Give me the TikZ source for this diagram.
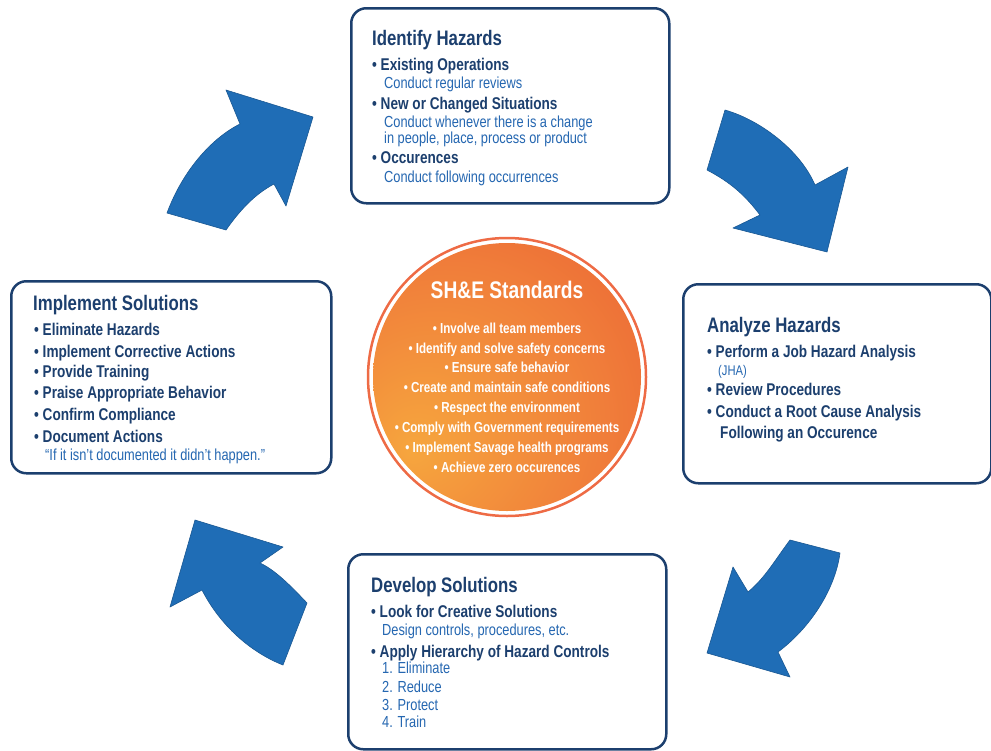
\documentclass[tikz,border=0pt]{standalone}
\usepackage{fontspec}
\setmainfont{Liberation Sans}[FakeStretch=0.8]
\usepackage{tikz}
\usetikzlibrary{positioning}
\definecolor{navy}{HTML}{1C3F6E}
\definecolor{sublue}{HTML}{2567B1}
\definecolor{arrowblue}{HTML}{1F6DB6}
\definecolor{ringc}{HTML}{EE6B45}
\definecolor{sunhot}{HTML}{F6A63E}
\definecolor{sunmid}{HTML}{F07D3A}
\definecolor{sunrim}{HTML}{E54D2E}
\pgfdeclareradialshading{sunball}{\pgfpoint{-18bp}{-14bp}}{%
  color(0bp)=(sunhot); color(30bp)=(sunmid); color(62bp)=(sunrim); color(80bp)=(sunrim)}
\tikzset{
  panel/.style={draw=navy,line width=2.5pt,rounded corners=15pt,fill=white,
    anchor=north west,inner sep=0pt},
  head/.style={anchor=base west,inner sep=0pt,text=navy,font=\fontsize{21}{24}\selectfont\bfseries},
  item/.style={anchor=base west,inner sep=0pt,text=navy,font=\fontsize{17}{20}\selectfont\bfseries},
  note/.style={anchor=base west,inner sep=0pt,text=sublue,font=\fontsize{16}{19}\selectfont},
  bigarrow/.style={fill=arrowblue,draw=arrowblue!80!black,line width=0.6pt,line join=round},
  sline/.style={anchor=base,inner sep=0pt,text=white,font=\fontsize{14.5}{17}\selectfont\bfseries},
}
\begin{document}
\begin{tikzpicture}[x=1pt,y=-1pt]
  \useasboundingbox (0,0) rectangle (991,750);
  % --- the four panels ---
  \node[panel,minimum width=318pt,minimum height=195pt] (identify) at (350,7) {};
  \node[panel,minimum width=308pt,minimum height=199pt] (analyze) at (682,283) {};
  \node[panel,minimum width=318pt,minimum height=195pt] (develop) at (347,553) {};
  \node[panel,minimum width=320pt,minimum height=192pt] (implement) at (10,280) {};
  % --- identify ---
  \node[head] (ih0) at (372,45) {Identify Hazards};
  \node[item] (ih1) at (372,70) {\textbullet\ Existing Operations};
  \node[note] (ih2) at (384,88) {Conduct regular reviews};
  \node[item] (ih3) at (372,109) {\textbullet\ New or Changed Situations};
  \node[note] (ih4) at (384,127) {Conduct whenever there is a change};
  \node[note] (ih5) at (384,143) {in people, place, process or product};
  \node[item] (ih6) at (372,163) {\textbullet\ Occurences};
  \node[note] (ih7) at (384,182) {Conduct following occurrences};
  % --- analyze ---
  \node[head] (ah0) at (707,332) {Analyze Hazards};
  \node[item] (ah1) at (707,357) {\textbullet\ Perform a Job Hazard Analysis};
  \node[note,font=\fontsize{14}{16}\selectfont] (ah2) at (718,375) {(JHA)};
  \node[item] (ah3) at (707,395) {\textbullet\ Review Procedures};
  \node[item] (ah4) at (707,417) {\textbullet\ Conduct a Root Cause Analysis};
  \node[item] (ah5) at (720,438) {Following an Occurence};
  % --- develop ---
  \node[head] (dh0) at (371,592) {Develop Solutions};
  \node[item] (dh1) at (371,617) {\textbullet\ Look for Creative Solutions};
  \node[note] (dh2) at (382,635) {Design controls, procedures, etc.};
  \node[item] (dh3) at (371,657) {\textbullet\ Apply Hierarchy of Hazard Controls};
  \node[note] (dh4) at (382,673) {1. Eliminate};
  \node[note] (dh5) at (382,692) {2. Reduce};
  \node[note] (dh6) at (382,710) {3. Protect};
  \node[note] (dh7) at (382,727) {4. Train};
  % --- implement ---
  \node[head] (mh0) at (33,310) {Implement Solutions};
  \node[item] (mh1) at (34,335) {\textbullet\ Eliminate Hazards};
  \node[item] (mh2) at (34,357) {\textbullet\ Implement Corrective Actions};
  \node[item] (mh3) at (34,377) {\textbullet\ Provide Training};
  \node[item] (mh4) at (34,398) {\textbullet\ Praise Appropriate Behavior};
  \node[item] (mh5) at (34,420) {\textbullet\ Confirm Compliance};
  \node[item] (mh6) at (34,442) {\textbullet\ Document Actions};
  \node[note] (mh7) at (45,460) {``If it isn't documented it didn't happen.''};
  % --- standards ---
  \node[circle,shade,shading=sunball,minimum size=268pt,inner sep=0pt] (standards) at (507,377) {};
  \node[circle,draw=ringc,line width=2.5pt,minimum size=278pt,inner sep=0pt] (ring) at (standards) {};
  \node[sline,font=\fontsize{24}{28}\selectfont\bfseries] (st0) at (507,298) {SH\&E Standards};
  \foreach \t [count=\i] in {Involve all team members,Identify and solve safety concerns,
      Ensure safe behavior,Create and maintain safe conditions,Respect the environment,
      Comply with Government requirements,Implement Savage health programs,Achieve zero occurences}
    \node[sline] (st\i) at (507,{313.3+19.85*\i}) {\textbullet\ \t};
  % --- cycle arrows ---
  \filldraw[bigarrow] (167,213) -- (226,230) .. controls (240,210) and (255,194) .. (274,184)
    -- (286,206) -- (313,117) -- (226,90) -- (240,124) .. controls (212,138) and (183,170) .. cycle;
  \filldraw[bigarrow] (725,110) .. controls (760,120) and (800,150) .. (815,185)
    -- (848,167) -- (827,252) -- (733,228) -- (760,215) .. controls (745,195) and (730,182) .. (707,170) -- cycle;
  \filldraw[bigarrow] (790,540) .. controls (775,560) and (765,578) .. (748,592)
    -- (733,567) -- (707,653) -- (790,677) -- (778,652) .. controls (810,628) and (835,590) .. (840,553) -- cycle;
  \filldraw[bigarrow] (307,603) .. controls (290,585) and (275,570) .. (260,563)
    -- (283,547) -- (195,520) -- (170,607) -- (202,590) .. controls (220,625) and (250,652) .. (283,665) -- cycle;
\end{tikzpicture}
\end{document}
